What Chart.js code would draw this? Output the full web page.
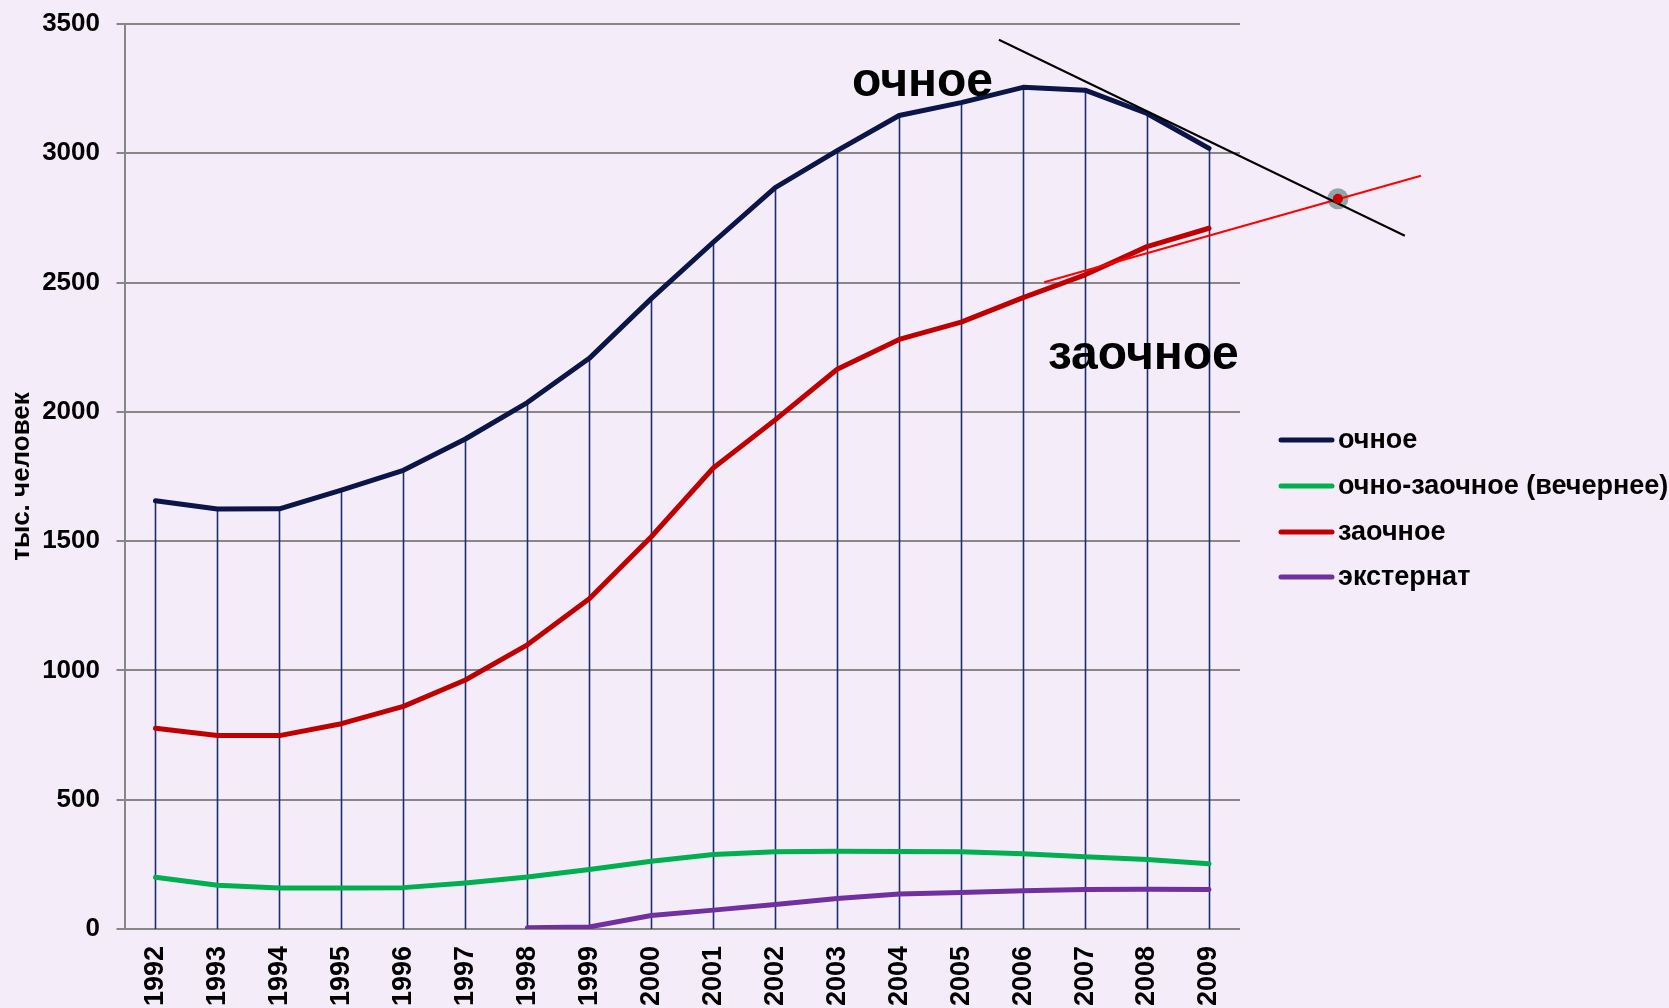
<!DOCTYPE html>
<html>
<head>
<meta charset="utf-8">
<script src="https://cdn.jsdelivr.net/npm/chart.js@4.4.1/dist/chart.umd.min.js"></script>
<style>
html,body{margin:0;padding:0;background:#f4edf9;}
#wrap{width:1669px;height:1008px;position:relative;}
</style>
</head>
<body>
<div id="wrap"><canvas id="c" width="1669" height="1008"></canvas></div>
<script>
// ---- data ----
const years = ['1992','1993','1994','1995','1996','1997','1998','1999','2000','2001','2002','2003','2004','2005','2006','2007','2008','2009'];
const ochnoe    = [1656,1624,1625,1697,1774,1895,2036,2207,2438,2656,2867,3010,3146,3196,3255,3244,3154,3019];
const vechernee = [200,169,159,159,160,178,201,230,262,288,299,301,300,299,291,279,269,252];
const zaochnoe  = [776,748,748,794,861,963,1099,1277,1517,1783,1969,2165,2280,2347,2442,2530,2639,2710];
const eksternat = [null,null,null,null,null,null,5,8,52,73,95,118,135,141,148,153,154,153];
const seriesNames = ['очное','очно-заочное (вечернее)','заочное','экстернат'];
const yMin = 0, yMax = 3500, yStep = 500;
const axisTitle = 'тыс. человек';
// annotation trend lines, in (category index, value) units
const trendOchnoe   = [[13.61, 3439], [20.16, 2681]];
const trendZaochnoe = [[14.34, 2501], [20.42, 2913]];
const crossPoint    = [19.08, 2824];
const noteTexts     = ['очное', 'заочное'];
const noteAnchors   = [[11.24, 3222], [14.40, 2167]];

const FONT = '"Liberation Sans", Arial, sans-serif';
const colors = ['#0b1548', '#00b050', '#c00000', '#7030a0'];

const dropLines = {
  id: 'dropLines',
  beforeDatasetsDraw(chart) {
    const {ctx, scales: {x, y}} = chart;
    ctx.save();
    ctx.strokeStyle = '#1d2c6c';
    ctx.lineWidth = 1.6;
    years.forEach((yr, i) => {
      const vals = chart.data.datasets.map(d => d.data[i]).filter(v => v != null);
      const top = Math.max(...vals);
      const px = Math.round(x.getPixelForValue(i)) + 0.5;
      ctx.beginPath();
      ctx.moveTo(px, y.getPixelForValue(top));
      ctx.lineTo(px, y.getPixelForValue(0));
      ctx.stroke();
    });
    ctx.restore();
  }
};

const annotations = {
  id: 'annotations',
  afterDatasetsDraw(chart) {
    const {ctx, scales: {x, y}} = chart;
    const P = pt => [x.getPixelForValue(pt[0]), y.getPixelForValue(pt[1])];
    ctx.save();
    const c = P(crossPoint);
    ctx.fillStyle = '#8fa7a7';
    ctx.beginPath(); ctx.arc(c[0], c[1], 10.5, 0, Math.PI * 2); ctx.fill();
    const drawSeg = (seg, color) => {
      const a = P(seg[0]), b = P(seg[1]);
      ctx.strokeStyle = color; ctx.lineWidth = 2; ctx.lineCap = 'butt';
      ctx.beginPath(); ctx.moveTo(a[0], a[1]); ctx.lineTo(b[0], b[1]); ctx.stroke();
    };
    drawSeg(trendZaochnoe, '#ff0000');
    drawSeg(trendOchnoe, '#000000');
    ctx.fillStyle = '#cc0000';
    ctx.beginPath(); ctx.arc(c[0], c[1], 5, 0, Math.PI * 2); ctx.fill();
    ctx.fillStyle = '#000';
    ctx.font = 'bold 48px ' + FONT;
    ctx.textAlign = 'left'; ctx.textBaseline = 'alphabetic';
    noteTexts.forEach((t, i) => {
      const p = P(noteAnchors[i]);
      ctx.fillText(t, p[0], p[1]);
    });
    ctx.restore();
  }
};

const customLegend = {
  id: 'customLegend',
  afterDraw(chart) {
    const {ctx} = chart;
    const rowY = [440, 486, 532, 577];
    ctx.save();
    ctx.font = 'bold 27px ' + FONT;
    ctx.textAlign = 'left'; ctx.textBaseline = 'middle';
    chart.data.datasets.forEach((ds, i) => {
      ctx.strokeStyle = ds.borderColor; ctx.lineWidth = 5; ctx.lineCap = 'round';
      ctx.beginPath(); ctx.moveTo(1281, rowY[i]); ctx.lineTo(1332, rowY[i]); ctx.stroke();
      ctx.fillStyle = '#000';
      ctx.fillText(ds.label, 1338, rowY[i] + 1);
    });
    ctx.restore();
  }
};

const seriesData = [ochnoe, vechernee, zaochnoe, eksternat];
new Chart(document.getElementById('c'), {
  type: 'line',
  data: {
    labels: years,
    datasets: seriesData.map((d, i) => ({
      label: seriesNames[i],
      data: d,
      borderColor: colors[i],
      backgroundColor: colors[i],
      borderWidth: 5,
      pointRadius: 0,
      borderCapStyle: 'round',
      borderJoinStyle: 'round',
      tension: 0,
      spanGaps: false
    }))
  },
  options: {
    responsive: false,
    animation: false,
    layout: {padding: {top: 24, right: 429, bottom: 0, left: 0}},
    plugins: {legend: {display: false}, tooltip: {enabled: false}},
    scales: {
      x: {
        offset: true,
        grid: {display: false, drawTicks: false},
        border: {display: false},
        ticks: {
          autoSkip: false, minRotation: 90, maxRotation: 90, padding: 17,
          color: '#000', font: {family: FONT, size: 27, weight: 'bold'}
        },
        afterFit(s) { s.height = 79; s.paddingLeft = 0; s.paddingRight = 0; }
      },
      y: {
        min: yMin, max: yMax,
        ticks: {
          stepSize: yStep, padding: 16.5, color: '#000',
          font: {family: FONT, size: 26, weight: 'bold'},
          callback: v => String(v)
        },
        grid: {color: '#878787', lineWidth: 2, tickLength: 8},
        border: {color: '#878787', width: 2},
        title: {display: true, text: axisTitle, color: '#000', padding: {top: 6, bottom: 0}, font: {family: FONT, size: 26, weight: 'bold'}},
        afterFit(s) { s.width = 124.5; s.paddingTop = 0; s.paddingBottom = 0; }
      }
    }
  },
  plugins: [dropLines, annotations, customLegend]
});
</script>
</body>
</html>
